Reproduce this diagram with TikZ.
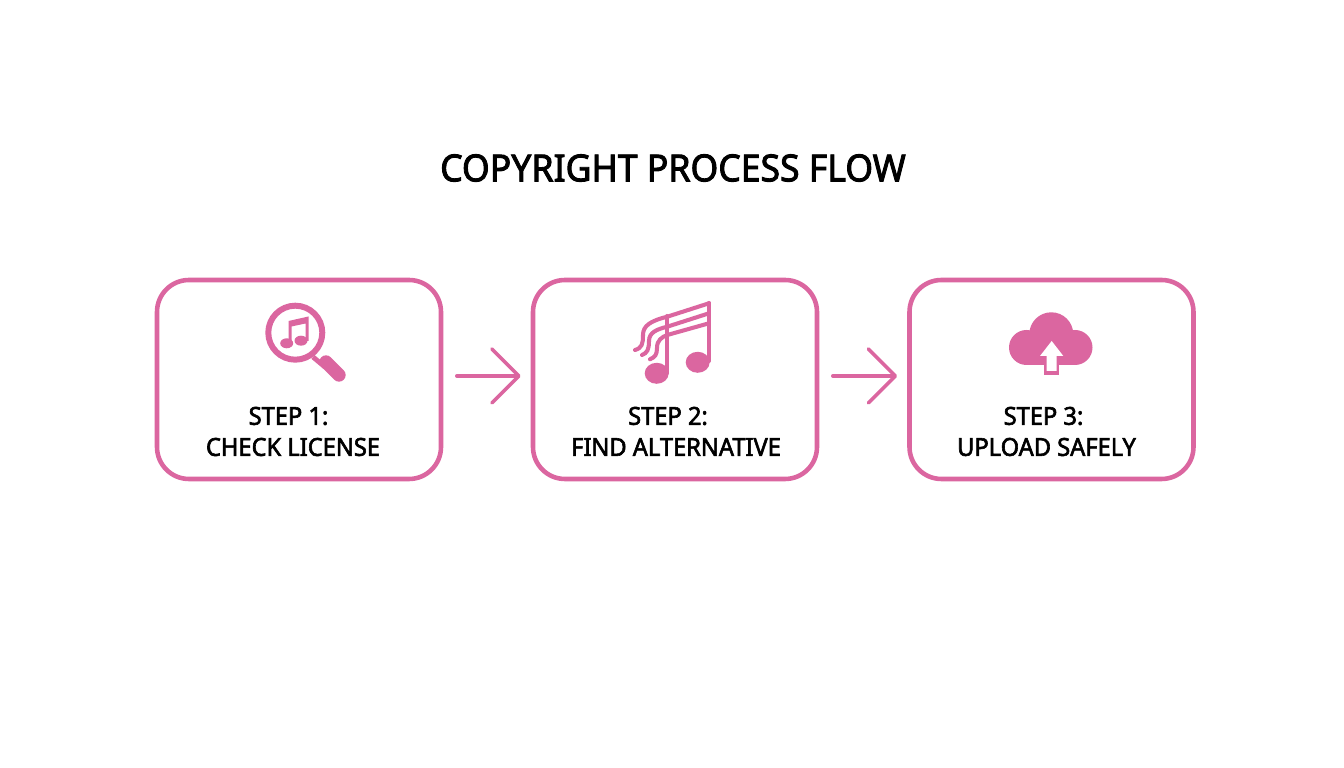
\documentclass[tikz,border=0pt]{standalone}
\usepackage{fontspec}
\setmainfont{Noto Sans}[BoldFont={Noto Sans}, BoldFeatures={FakeBold=2.4, FakeStretch=0.955}]
\usetikzlibrary{arrows.meta}
\definecolor{flowpink}{HTML}{DB66A0}
\tikzset{
  stepbox/.style={draw=flowpink, line width=1.3pt, rounded corners=0.32cm, minimum width=2.84cm, minimum height=1.99cm},
  steptext/.style={text=black, font=\fontsize{7.05}{8.85}\selectfont\bfseries},
  flowarrow/.style={draw=flowpink, line width=1pt, line cap=round, -{Straight Barb[length=0.27cm, width=0.54cm, round]}, shorten <=0.135cm, shorten >=0.10cm},
  noteline/.style={draw=flowpink, line width=1.15pt, line cap=round}
}
\begin{document}
\begin{tikzpicture}
    \useasboundingbox (0, 0) rectangle (13.44, 7.68);
    \fill[white] (0, 0) rectangle (13.44, 7.68);

    \node (title) at (6.73, 6.0) {\fontsize{10.6}{12}\selectfont\bfseries COPYRIGHT PROCESS FLOW};

    \node (B1)[stepbox] at (2.99, 3.885) {};
    \node (B2)[stepbox] at (6.75, 3.885) {};
    \node (B3)[stepbox] at (10.515, 3.885) {};
    \node (S1)[steptext] at (2.885, 3.52) {STEP 1:};
    \node (L1)[steptext] at (2.93, 3.21) {CHECK LICENSE};
    \node (S2)[steptext] at (6.68, 3.52) {STEP 2:};
    \node (L2)[steptext] at (6.76, 3.21) {FIND ALTERNATIVE};
    \node (S3)[steptext] at (10.435, 3.52) {STEP 3:};
    \node (L3)[steptext] at (10.465, 3.21) {UPLOAD SAFELY};

    \draw[flowarrow] ([yshift=0.035cm]B1.east) -- ([yshift=0.035cm]B2.west);
    \draw[flowarrow] ([yshift=0.035cm]B2.east) -- ([yshift=0.035cm]B3.west);

    % magnifier
    \draw[flowpink, line width=1.7pt] (2.953, 4.353) circle (0.27);
    \draw[flowpink, line width=1.4pt] (3.13, 4.11) -- (3.25, 4.01);
    \draw[flowpink, line width=3.8pt, line cap=round] (3.26, 4.06) -- (3.39, 3.93);
    \fill[flowpink] (2.867, 4.247) ellipse (0.065 and 0.05);
    \fill[flowpink] (3.01, 4.273) ellipse (0.065 and 0.05);
    \fill[flowpink] (2.885, 4.26) -- (2.885, 4.47) -- (3.085, 4.515) -- (3.085, 4.27) -- (3.055, 4.27) -- (3.055, 4.445) -- (2.915, 4.415) -- (2.915, 4.26) -- cycle;

    % notes
    \fill[flowpink] (6.567, 3.947) ellipse (0.12 and 0.105);
    \fill[flowpink] (6.977, 4.057) ellipse (0.12 and 0.105);
    \draw[noteline] (6.673, 3.95) -- (6.673, 4.52);
    \draw[noteline] (7.09, 4.07) -- (7.09, 4.65);
    \draw[noteline] (7.09, 4.647) -- (6.673, 4.513) .. controls (6.5, 4.47) and (6.43, 4.42) .. (6.43, 4.33) .. controls (6.43, 4.24) and (6.42, 4.2) .. (6.35, 4.18);
    \draw[noteline] (7.09, 4.547) -- (6.673, 4.413) .. controls (6.58, 4.39) and (6.49, 4.36) .. (6.49, 4.27) .. controls (6.49, 4.18) and (6.47, 4.15) .. (6.42, 4.13);
    \draw[noteline] (7.09, 4.447) -- (6.673, 4.33) .. controls (6.62, 4.31) and (6.57, 4.28) .. (6.57, 4.2) .. controls (6.57, 4.13) and (6.55, 4.11) .. (6.5, 4.087);

    % cloud
    \fill[flowpink] (10.265, 4.205) circle (0.175);
    \fill[flowpink] (10.513, 4.337) circle (0.22);
    \fill[flowpink] (10.75, 4.205) circle (0.175);
    \fill[flowpink] (10.265, 4.03) rectangle (10.75, 4.25);
    \fill[flowpink] (10.44, 3.93) rectangle (10.593, 4.1);
    \fill[white] (10.517, 4.27) -- (10.633, 4.12) -- (10.567, 4.12) -- (10.567, 3.97) -- (10.467, 3.97) -- (10.467, 4.12) -- (10.40, 4.12) -- cycle;
\end{tikzpicture}
\end{document}
